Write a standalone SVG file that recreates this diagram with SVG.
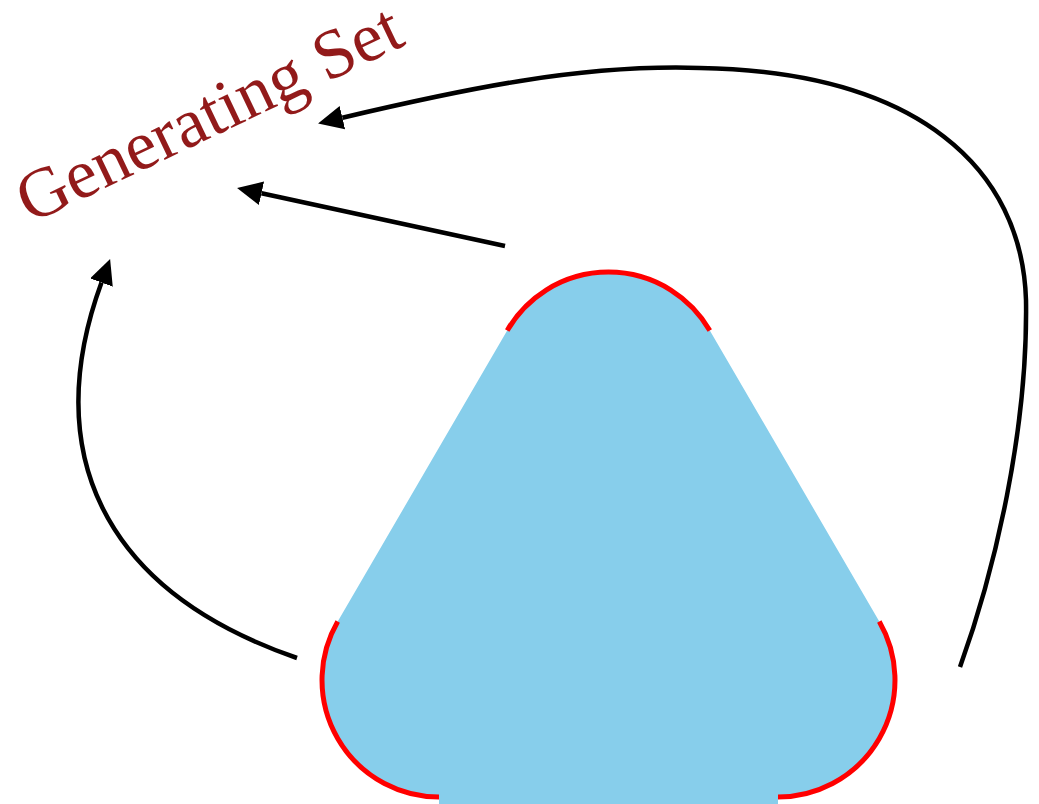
<svg xmlns="http://www.w3.org/2000/svg" width="1039" height="804" viewBox="0 0 1039 804">
  <style>
    .conn { fill: none; stroke: #000; stroke-width: 4.5; }
    .corner { fill: none; stroke: #ff0000; stroke-width: 5; }
    .body { fill: #87ceeb; stroke: none; }
    .label { font-family: "Liberation Serif", "DejaVu Serif", serif; font-size: 70px; fill: #921a1a; }
  </style>
  <defs>
    <marker id="arrow" viewBox="0 0 25 24" refX="0" refY="12" markerWidth="25" markerHeight="24" markerUnits="userSpaceOnUse" orient="auto">
      <path d="M0,0 L25,12 L0,24 Z" fill="#000"/>
    </marker>
  </defs>
  <rect width="1039" height="804" fill="#fff"/>
  <g id="triangle">
    <path class="body" d="M507.2,330.5 A117,117 0 0 1 709.8,330.5 L879.3,621.5 A117,117 0 0 1 778,797 L778,804 L439,804 L439,797 A117,117 0 0 1 337.7,621.5 Z"/>
    <path class="corner" d="M507.2,330.5 A117,117 0 0 1 709.8,330.5"/>
    <path class="corner" d="M879.3,621.5 A117,117 0 0 1 778,797"/>
    <path class="corner" d="M439,797 A117,117 0 0 1 337.7,621.5"/>
  </g>
  <g id="generating-set">
    <text class="label" x="30" y="224" transform="rotate(-25.5 30 224)">Generating Set</text>
  </g>
  <g id="connectors">
    <path class="conn" marker-end="url(#arrow)" d="M505,246 L261.5,193.3"/>
    <path class="conn" marker-end="url(#arrow)" d="M297,658 C100,590 40,450 101.5,282.5"/>
    <path class="conn" marker-end="url(#arrow)" d="M960,667 C995,570 1028,430 1026,300 C1022,170 920,72 700,68 C580,64 460,90 342.4,117.7"/>
  </g>
</svg>
